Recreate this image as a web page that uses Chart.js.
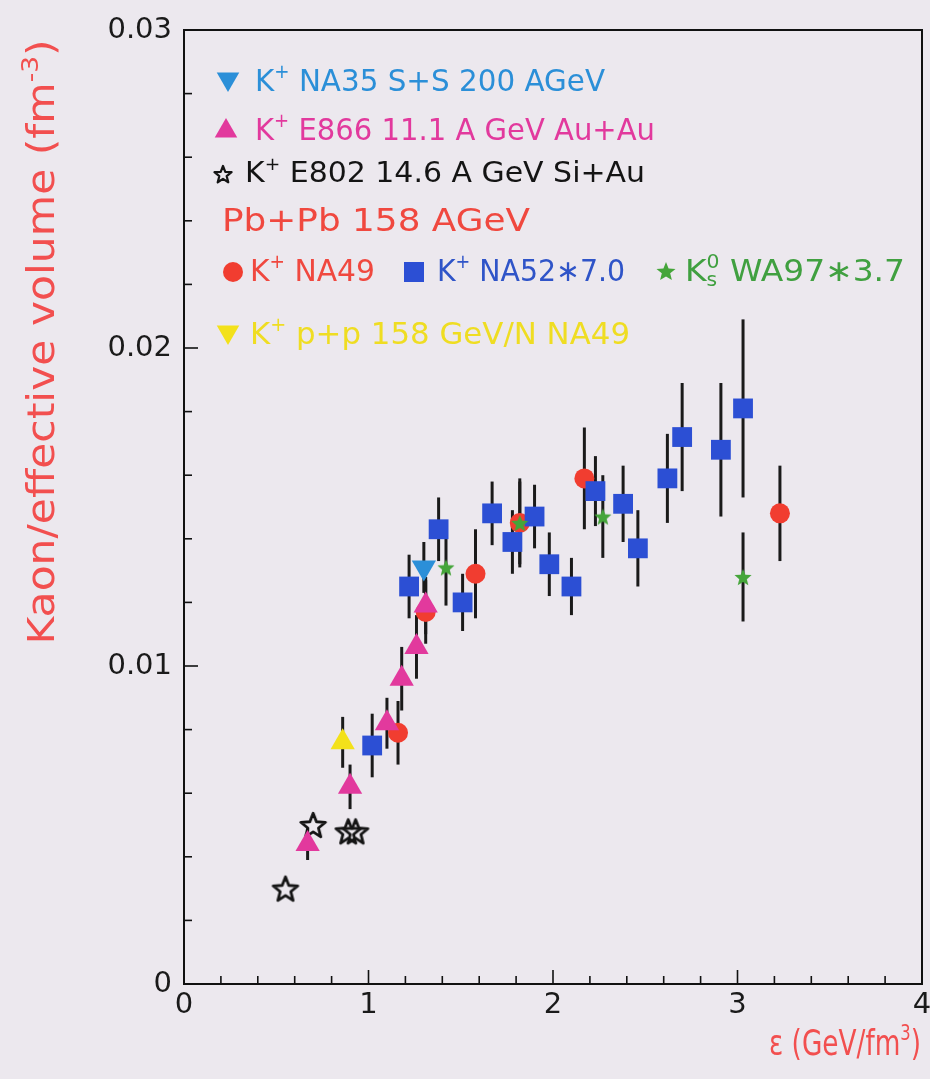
<!DOCTYPE html>
<html><head><meta charset="utf-8">
<script src="https://cdn.jsdelivr.net/npm/chart.js@4.4.0/dist/chart.umd.min.js"></script>
<style>html,body{margin:0;padding:0;background:#ece8ee;}canvas{display:block}</style>
</head><body>
<canvas id="c" width="930" height="1079"></canvas>
<script>
// ---------------- data ----------------
const xRange = [0, 4];
const yRange = [0, 0.03];
const xMajorTicks = ['0', '1', '2', '3', '4'];
const yMajorTicks = ['0', '0.01', '0.02', '0.03'];

// K+ E802 14.6 A GeV Si+Au (open stars)
const e802X = [0.55, 0.70, 0.89, 0.93];
const e802Y = [0.0030, 0.0050, 0.0048, 0.0048];

// K+ E866 11.1 A GeV Au+Au (triangles)
const e866X = [0.67, 0.90, 1.10, 1.18, 1.26, 1.31];
const e866Y = [0.0044, 0.0062, 0.0082, 0.0096, 0.0106, 0.0119];
const e866Err = [0.0005, 0.0007, 0.0008, 0.0010, 0.0010, 0.0009];

// K+ NA35 S+S 200 AGeV (down triangle)
const na35X = [1.30];
const na35Y = [0.0131];
const na35Err = [0.0008];

// K+ p+p 158 GeV/N NA49
const ppX = [0.86];
const ppY = [0.0076];
const ppErr = [0.0008];

// Pb+Pb: K+ NA49 (circles)
const na49X = [1.16, 1.31, 1.58, 1.82, 2.17, 3.23];
const na49Y = [0.0079, 0.0117, 0.0129, 0.0145, 0.0159, 0.0148];
const na49Err = [0.0010, 0.0010, 0.0014, 0.0014, 0.0016, 0.0015];

// Pb+Pb: K+ NA52*7.0 (squares)
const na52X = [1.02, 1.22, 1.38, 1.51, 1.67, 1.78, 1.90, 1.98, 2.10, 2.23, 2.38, 2.46, 2.62, 2.70, 2.91, 3.03];
const na52Y = [0.0075, 0.0125, 0.0143, 0.0120, 0.0148, 0.0139, 0.0147, 0.0132, 0.0125, 0.0155, 0.0151, 0.0137, 0.0159, 0.0172, 0.0168, 0.0181];
const na52Err = [0.0010, 0.0010, 0.0010, 0.0009, 0.0010, 0.0010, 0.0010, 0.0010, 0.0009, 0.0011, 0.0012, 0.0012, 0.0014, 0.0017, 0.0021, 0.0028];

// Pb+Pb: K0s WA97*3.7 (green stars)
const wa97X = [1.42, 1.82, 2.27, 3.03];
const wa97Y = [0.0131, 0.0145, 0.0147, 0.0128];
const wa97Err = [0.0012, 0.0013, 0.0013, 0.0014];

// ---------------- styles ----------------
const C = {
  cyan: '#2b8fd8', magenta: '#e2399d', black: '#141414', red: '#f13d30',
  blue: '#2c4fd4', green: '#45a53a', yellow: '#f3e11a', title: '#f24f4f',
  textRed: '#f0483f', textBlue: '#2f54c8', textGreen: '#40a040', textYellow: '#efdd22'
};
const FONT = '"DejaVu Sans", "Liberation Sans", sans-serif';

function pts(xs, ys) { return xs.map((x, i) => ({ x: x, y: ys[i] })); }

function starPath(ctx, cx, cy, ro, ri) {
  ctx.beginPath();
  for (let i = 0; i < 10; i++) {
    const r = i % 2 === 0 ? ro : ri;
    const a = -Math.PI / 2 + i * Math.PI / 5;
    const px = cx + r * Math.cos(a), py = cy + r * Math.sin(a);
    if (i === 0) ctx.moveTo(px, py); else ctx.lineTo(px, py);
  }
  ctx.closePath();
}
function starCanvas(ro, ri, fill, stroke, lw) {
  const s = Math.ceil(ro * 2 + lw * 2 + 2);
  const cv = document.createElement('canvas');
  cv.width = s; cv.height = s;
  const g = cv.getContext('2d');
  starPath(g, s / 2, s / 2 + ro * 0.1, ro, ri);
  if (fill) { g.fillStyle = fill; g.fill(); }
  if (stroke) { g.lineWidth = lw; g.lineJoin = 'round'; g.strokeStyle = stroke; g.stroke(); }
  return cv;
}
const openStar = starCanvas(13, 5.6, null, C.black, 2.8);
const greenStar = starCanvas(9, 4, C.green, null, 0);

function drawMarker(ctx, type, x, y, r, color) {
  ctx.save();
  ctx.fillStyle = color;
  ctx.beginPath();
  if (type === 'up' || type === 'down') {
    const s = type === 'up' ? 1 : -1;
    ctx.moveTo(x, y - s * r);
    ctx.lineTo(x + r * 0.866, y + s * r * 0.5);
    ctx.lineTo(x - r * 0.866, y + s * r * 0.5);
    ctx.closePath(); ctx.fill();
  } else if (type === 'circle') {
    ctx.arc(x, y, r, 0, Math.PI * 2); ctx.fill();
  } else if (type === 'square') {
    ctx.fillRect(x - r, y - r, 2 * r, 2 * r);
  } else if (type === 'openstar') {
    starPath(ctx, x, y, r, r * 0.43);
    ctx.lineWidth = 2.2; ctx.lineJoin = 'round'; ctx.strokeStyle = color; ctx.stroke();
  } else if (type === 'star') {
    starPath(ctx, x, y, r, r * 0.44); ctx.fill();
  }
  ctx.restore();
}

// rich text: segs = [[text, kind]], kind: '' | 'sup' | 'sub' | 'subStack'
function drawRich(ctx, segs, x, y, size, color, targetW, align, rot) {
  const parts = segs.map(s => ({ t: s[0], k: s[1] || '', fs: s[1] ? size * 0.62 : size }));
  let w = 0;
  parts.forEach(p => {
    ctx.font = p.fs + 'px ' + FONT;
    p.w = ctx.measureText(p.t).width;
    p.adv = p.w;
  });
  for (let i = 0; i < parts.length; i++) {
    if (parts[i].k === 'subStack' && i > 0) {
      parts[i].adv = Math.max(0, parts[i].w - parts[i - 1].w);
    }
    w += parts[i].adv;
  }
  const sx = targetW ? targetW / w : 1;
  ctx.save();
  ctx.translate(x, y);
  if (rot) ctx.rotate(rot);
  ctx.scale(sx, 1);
  ctx.fillStyle = color;
  ctx.textBaseline = 'middle';
  ctx.textAlign = 'left';
  let cx = align === 'right' ? -w : (align === 'center' ? -w / 2 : 0);
  let prevStart = cx;
  parts.forEach(p => {
    ctx.font = p.fs + 'px ' + FONT;
    let dy = 0;
    if (p.k === 'sup') dy = -size * 0.33;
    if (p.k === 'sub' || p.k === 'subStack') dy = size * 0.28;
    if (p.k === 'subStack') {
      ctx.fillText(p.t, prevStart, dy);
      cx = prevStart + Math.max(p.w, cx - prevStart);
      return;
    }
    prevStart = cx;
    ctx.fillText(p.t, cx, dy);
    cx += p.w;
  });
  ctx.restore();
}

// ---------------- plugins ----------------
const bgPlugin = {
  id: 'bg',
  beforeDraw(chart) {
    const ctx = chart.ctx;
    ctx.save(); ctx.fillStyle = '#ece8ee';
    ctx.fillRect(0, 0, chart.width, chart.height); ctx.restore();
  }
};

const errorBarPlugin = {
  id: 'errbars',
  beforeDatasetsDraw(chart) {
    const ctx = chart.ctx, xs = chart.scales.x, ys = chart.scales.y;
    ctx.save();
    ctx.strokeStyle = '#1a1a1a'; ctx.lineWidth = 3; ctx.lineCap = 'butt';
    chart.data.datasets.forEach(ds => {
      if (!ds.errs) return;
      ds.data.forEach((p, i) => {
        const e = ds.errs[i];
        const px = xs.getPixelForValue(p.x);
        ctx.beginPath();
        ctx.moveTo(px, ys.getPixelForValue(p.y - e));
        ctx.lineTo(px, ys.getPixelForValue(p.y + e));
        ctx.stroke();
      });
    });
    ctx.restore();
  }
};

const framePlugin = {
  id: 'frame',
  afterDraw(chart) {
    const ctx = chart.ctx, a = chart.chartArea, xs = chart.scales.x, ys = chart.scales.y;
    ctx.save();
    ctx.strokeStyle = '#111'; ctx.lineWidth = 2;
    ctx.beginPath();
    ctx.moveTo(a.left, a.top); ctx.lineTo(a.right, a.top); ctx.lineTo(a.right, a.bottom);
    ctx.stroke();
    ctx.lineWidth = 1.6;
    xs.ticks.forEach(t => {
      const v = t.value, px = xs.getPixelForValue(v);
      const major = Math.abs(v - Math.round(v)) < 1e-6;
      const len = major ? 14 : 8;
      ctx.beginPath(); ctx.moveTo(px, a.bottom); ctx.lineTo(px, a.bottom - len); ctx.stroke();
    });
    ys.ticks.forEach(t => {
      const v = t.value, py = ys.getPixelForValue(v);
      const major = Math.round(v * 1000) % 10 === 0;
      const len = major ? 14 : 8;
      ctx.beginPath(); ctx.moveTo(a.left, py); ctx.lineTo(a.left + len, py); ctx.stroke();
    });
    ctx.restore();

    // axis titles
    drawRich(ctx, [['Kaon/effective volume (fm', ''], ['-3', 'sup'], [')', '']],
      44, 342, 37, C.title, 605, 'center', -Math.PI / 2);
    drawRich(ctx, [['ε (GeV/fm', ''], ['3', 'sup'], [')', '']],
      921, 1046, 35, C.title, 152, 'right', 0);

    // legend
    drawMarker(ctx, 'down', 228, 79, 13, C.cyan);
    drawRich(ctx, [['K', ''], ['+', 'sup'], [' NA35 S+S 200 AGeV', '']], 255, 83, 30, C.cyan, 350);
    drawMarker(ctx, 'up', 226, 131, 13, C.magenta);
    drawRich(ctx, [['K', ''], ['+', 'sup'], [' E866 11.1 A GeV Au+Au', '']], 255, 132, 30, C.magenta, 400);
    drawMarker(ctx, 'openstar', 223, 175, 9, C.black);
    drawRich(ctx, [['K', ''], ['+', 'sup'], [' E802 14.6 A GeV Si+Au', '']], 245, 175, 28, C.black, 400);
    drawRich(ctx, [['Pb+Pb 158 AGeV', '']], 222, 223, 32, C.textRed, 308);
    drawMarker(ctx, 'circle', 233, 272, 10, C.red);
    drawRich(ctx, [['K', ''], ['+', 'sup'], [' NA49', '']], 250, 273, 30, C.textRed, 125);
    drawMarker(ctx, 'square', 414, 272, 10, C.blue);
    drawRich(ctx, [['K', ''], ['+', 'sup'], [' NA52\u22177.0', '']], 437, 273, 30, C.textBlue, 188);
    drawMarker(ctx, 'star', 666, 272, 10, C.green);
    drawRich(ctx, [['K', ''], ['0', 'sup'], ['s', 'subStack'], [' WA97\u22173.7', '']], 685, 273, 30, C.textGreen, 220);
    drawMarker(ctx, 'down', 228, 332, 13, C.yellow);
    drawRich(ctx, [['K', ''], ['+', 'sup'], [' p+p 158 GeV/N NA49', '']], 250, 336, 30, C.textYellow, 380);
  }
};

// ---------------- chart ----------------
const ctx = document.getElementById('c').getContext('2d');
new Chart(ctx, {
  type: 'scatter',
  data: {
    datasets: [
      { label: 'K0s WA97*3.7', data: pts(wa97X, wa97Y), errs: wa97Err, pointStyle: greenStar, pointRadius: 9, backgroundColor: C.green },
      { label: 'K+ E866 11.1 A GeV Au+Au', data: pts(e866X, e866Y), errs: e866Err, pointStyle: 'triangle', pointRadius: 14, backgroundColor: C.magenta, borderWidth: 0 },
      { label: 'K+ NA35 S+S 200 AGeV', data: pts(na35X, na35Y), errs: na35Err, pointStyle: 'triangle', rotation: 180, pointRadius: 14, backgroundColor: C.cyan, borderWidth: 0 },
      { label: 'K+ p+p 158 GeV/N NA49', data: pts(ppX, ppY), errs: ppErr, pointStyle: 'triangle', pointRadius: 14, backgroundColor: C.yellow, borderWidth: 0 },
      { label: 'K+ E802 14.6 A GeV Si+Au', data: pts(e802X, e802Y), pointStyle: openStar, pointRadius: 13, backgroundColor: C.black },
      { label: 'K+ NA52*7.0', data: pts(na52X, na52Y), errs: na52Err, pointStyle: 'rect', pointRadius: 14, backgroundColor: C.blue, borderWidth: 0 },
      { label: 'K+ NA49', data: pts(na49X, na49Y), errs: na49Err, pointStyle: 'circle', pointRadius: 10, backgroundColor: C.red, borderWidth: 0 }
    ]
  },
  options: {
    responsive: false,
    devicePixelRatio: 1,
    animation: false,
    events: [],
    layout: { autoPadding: false, padding: { left: 0, top: 30, right: 8, bottom: 0 } },
    plugins: { legend: { display: false }, tooltip: { enabled: false } },
    elements: { point: { borderWidth: 0, hoverRadius: 0 } },
    scales: {
      x: {
        type: 'linear', min: xRange[0], max: xRange[1],
        grid: { display: false, drawTicks: false },
        border: { display: true, color: '#111', width: 2 },
        ticks: {
          stepSize: 0.2, autoSkip: false, padding: 4, color: '#1a1a1a',
          font: { family: FONT, size: 29 },
          callback: v => {
            const r = Math.round(v);
            return Math.abs(v - r) < 1e-6 ? xMajorTicks[r] : '';
          }
        },
        afterFit: s => { s.height = 95; s.paddingRight = 0; s.paddingLeft = 0; }
      },
      y: {
        type: 'linear', min: yRange[0], max: yRange[1],
        grid: { display: false, drawTicks: false },
        border: { display: true, color: '#111', width: 2 },
        ticks: {
          stepSize: 0.002, autoSkip: false, padding: 12, color: '#1a1a1a',
          font: { family: FONT, size: 29 },
          callback: v => {
            const k = Math.round(v * 1000);
            return k % 10 === 0 ? yMajorTicks[k / 10] : '';
          }
        },
        afterFit: s => { s.width = 184; }
      }
    }
  },
  plugins: [bgPlugin, errorBarPlugin, framePlugin]
});
</script>
</body></html>
